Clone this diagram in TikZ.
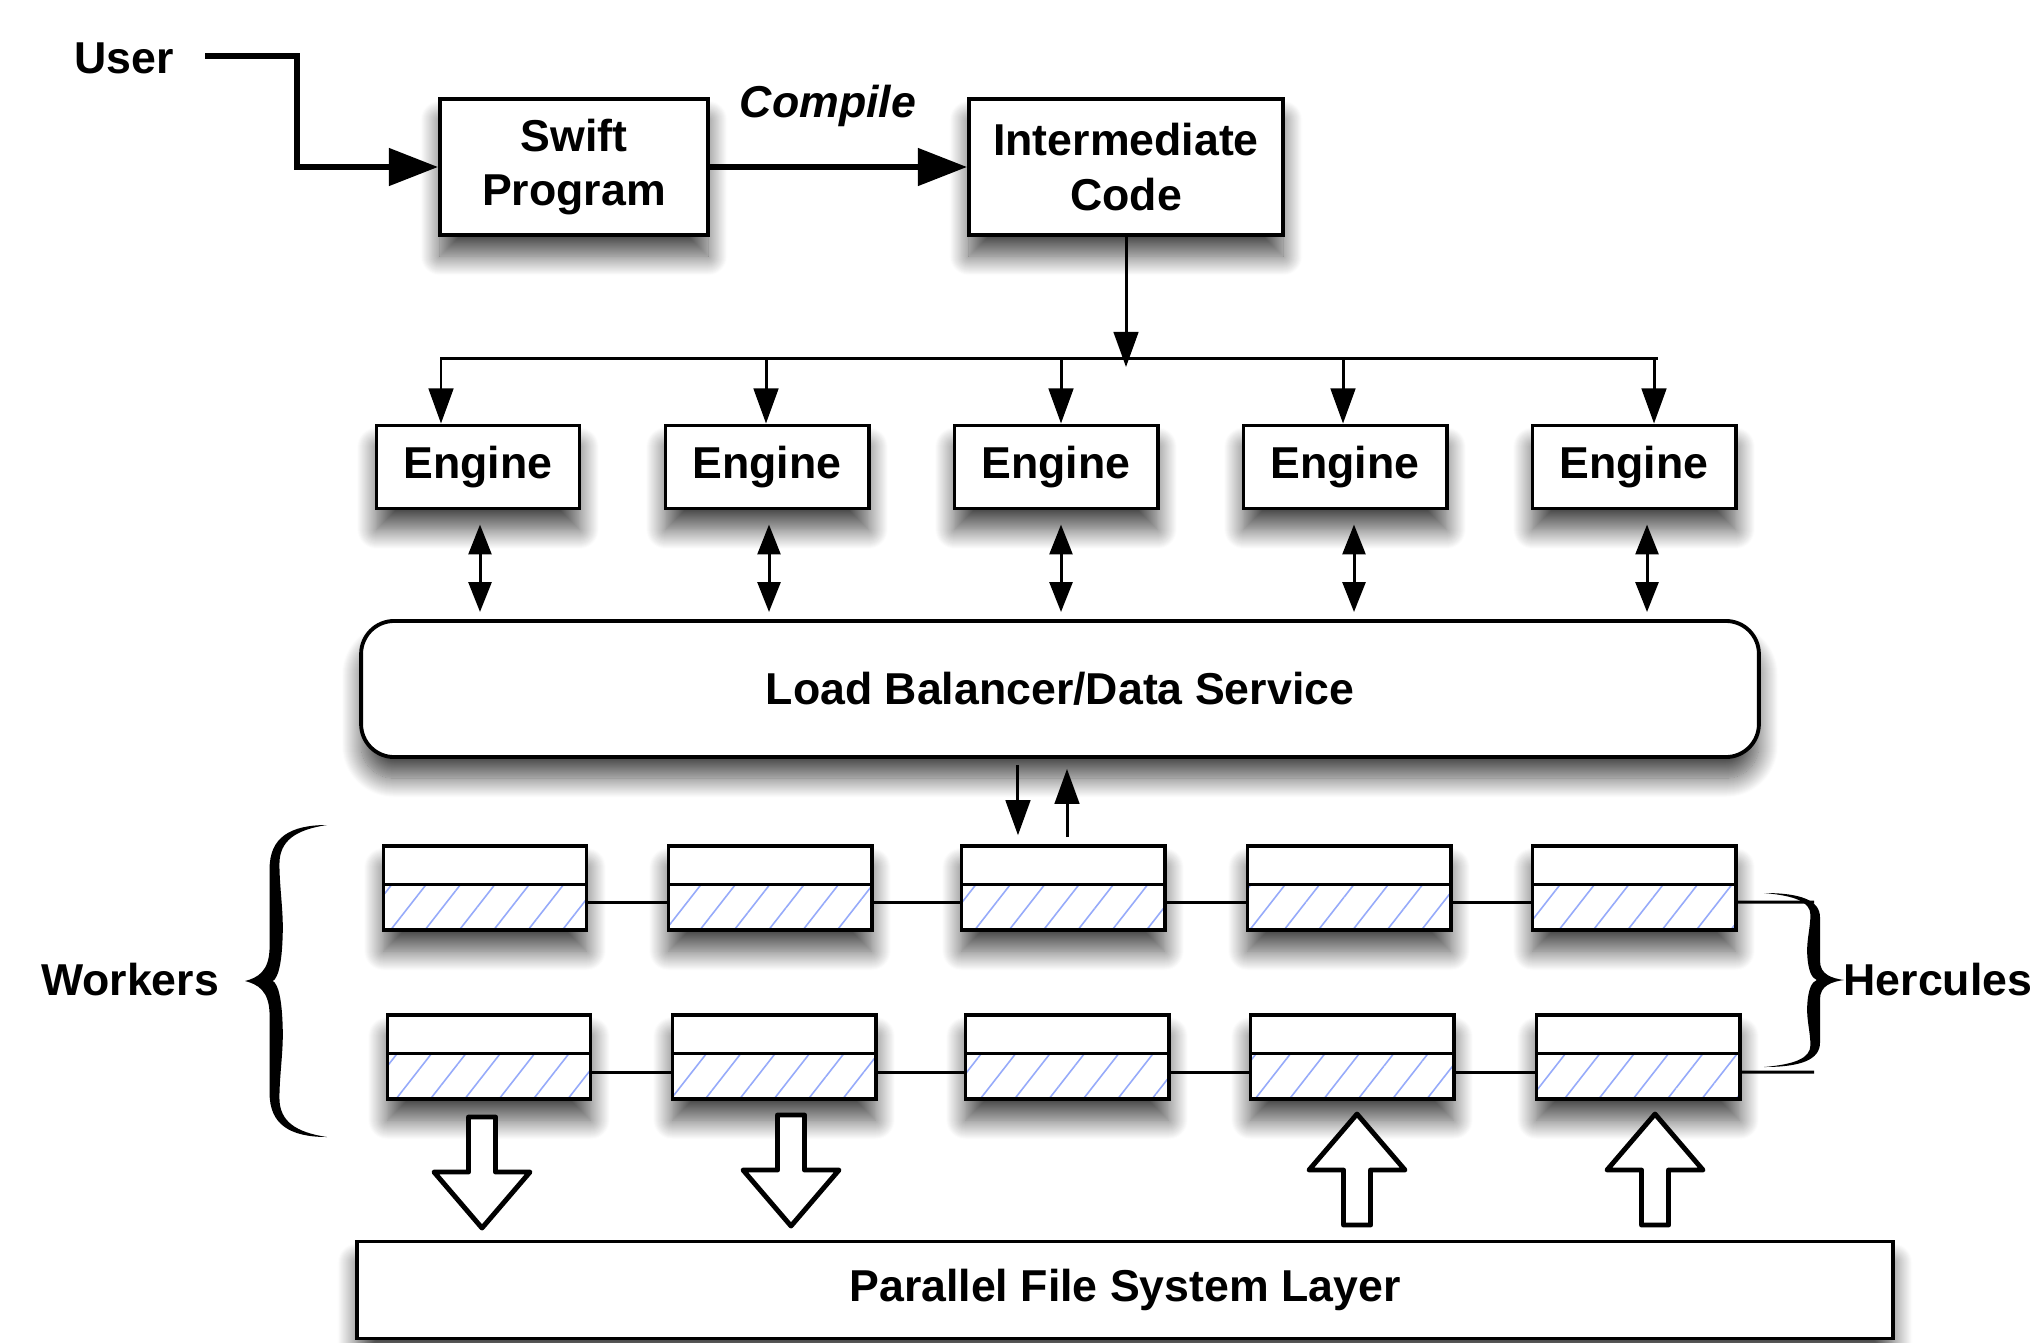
\documentclass[tikz,border=0pt]{standalone}
\usepackage{fontspec}
\setmainfont{Liberation Sans}
\usepackage{tikz}
\usetikzlibrary{arrows.meta}
\usetikzlibrary{patterns.meta}
\usetikzlibrary{shadows.blur}

\definecolor{hatchblue}{RGB}{150,170,250}

\begin{document}
\begin{tikzpicture}[x=0.01cm, y=-0.01cm,
    txt/.style={font=\fontsize{12.7}{15.4}\selectfont\bfseries},
    dropped/.style={blur shadow={shadow xshift=0pt, shadow yshift=-6pt, shadow blur radius=5.5pt, shadow blur steps=20, shadow opacity=70}},
    box/.style={txt, draw, line width=1.1pt, fill=white, dropped, align=center, inner sep=0pt},
    worker/.style={draw, line width=1.1pt, fill=white, dropped, minimum width=2.03cm, minimum height=0.84cm, inner sep=0pt,
        path picture={
            \fill[pattern={Lines[angle=52, distance=7.7pt, line width=0.45pt]}, pattern color=hatchblue]
                (path picture bounding box.south west) rectangle ([yshift=-0.38cm]path picture bounding box.north east);
            \draw[line width=0.85pt] ([yshift=-0.38cm]path picture bounding box.north west) -- ([yshift=-0.38cm]path picture bounding box.north east);
        }},
    link/.style={line width=0.85pt},
    arr/.style={line width=0.85pt, -{Triangle[length=10pt, width=7pt]}},
    twoway/.style={line width=0.85pt, {Triangle[length=8.5pt, width=6.5pt]}-{Triangle[length=8.5pt, width=6.5pt]}},
    fat/.style={line width=1.5pt, -{Triangle[length=14pt, width=10.5pt]}},
    pics/fatdown/.style={code={
        \draw[line width=1.4pt, line join=round, fill=white] (-13.5,0) -- (13.5,0) -- (13.5,55) -- (48,55) -- (0,111) -- (-48,55) -- (-13.5,55) -- cycle;
    }},
    % brace glyph, tip at the origin, ends at (1,-1) and (1,1)
    pics/curly/.style={code={
        \fill (0,0) .. controls (0.15,-0.02) and (0.30,-0.06) .. (0.30,-0.22) -- (0.30,-0.72)
            .. controls (0.30,-0.92) and (0.55,-1) .. (1,-1)
            .. controls (0.62,-0.97) and (0.42,-0.9) .. (0.42,-0.75)
            .. controls (0.42,-0.6) and (0.47,-0.45) .. (0.46,-0.3)
            .. controls (0.45,-0.1) and (0.40,-0.02) .. (0.34,0)
            .. controls (0.40,0.02) and (0.45,0.1) .. (0.46,0.3)
            .. controls (0.47,0.45) and (0.42,0.6) .. (0.42,0.75)
            .. controls (0.42,0.9) and (0.62,0.97) .. (1,1)
            .. controls (0.55,1) and (0.30,0.92) .. (0.30,0.72) -- (0.30,0.22)
            .. controls (0.30,0.06) and (0.15,0.02) .. (0,0) -- cycle;
    }}
]
\useasboundingbox (0,0) rectangle (2042,1342);

% compile chain
\node[txt, anchor=base] (user) at (124,73) {User};
\node[box, minimum width=2.68cm, minimum height=1.36cm] (swift) at (574,167) {Swift\\Program};
\node[box, minimum width=3.14cm, minimum height=1.36cm] (inter) at (1126,167) {Intermediate\\Code};
\node[txt, anchor=base] (compile) at (828,117) {\itshape Compile};
\coordinate (u0) at (205,56);
\draw[fat] (u0) -- (297,56) |- (swift.west);
\draw[fat] (swift.east) -- (inter.west);

% engines
\node[box, minimum width=2.03cm, minimum height=0.83cm] (e1) at (478,467) {Engine};
\node[box, minimum width=2.03cm, minimum height=0.83cm] (e2) at (767,467) {Engine};
\node[box, minimum width=2.03cm, minimum height=0.83cm] (e3) at (1056,467) {Engine};
\node[box, minimum width=2.03cm, minimum height=0.83cm] (e4) at (1345,467) {Engine};
\node[box, minimum width=2.03cm, minimum height=0.83cm] (e5) at (1634,467) {Engine};

\coordinate (hub) at (1126,367);
\coordinate (b1) at (441,358);
\coordinate (b2) at (766,358);
\coordinate (b3) at (1061,358);
\coordinate (b4) at (1343,358);
\coordinate (b5) at (1654,358);
\draw[link] ([xshift=-0.01cm]b1) -- ([xshift=0.04cm]b5);
\draw[arr] (inter.south) -- (hub);
\draw[arr] (b1) -- (b1 |- e1.north);
\draw[arr] (b2) -- (b2 |- e2.north);
\draw[arr] (b3) -- (b3 |- e3.north);
\draw[arr] (b4) -- (b4 |- e4.north);
\draw[arr] (b5) -- (b5 |- e5.north);

% load balancer
\node[box, rounded corners=0.33cm, minimum width=13.97cm, minimum height=1.36cm] (lb) at (1060,689) {Load Balancer/Data Service};
\draw[twoway, shorten <=4pt, shorten >=2pt] ([xshift=0.02cm]e1.south) -- ([xshift=0.02cm]e1.south |- lb.north);
\draw[twoway, shorten <=4pt, shorten >=2pt] ([xshift=0.02cm]e2.south) -- ([xshift=0.02cm]e2.south |- lb.north);
\draw[twoway, shorten <=4pt, shorten >=2pt] ([xshift=0.05cm]e3.south) -- ([xshift=0.05cm]e3.south |- lb.north);
\draw[twoway, shorten <=4pt, shorten >=2pt] ([xshift=0.09cm]e4.south) -- ([xshift=0.09cm]e4.south |- lb.north);
\draw[twoway, shorten <=4pt, shorten >=2pt] ([xshift=0.13cm]e5.south) -- ([xshift=0.13cm]e5.south |- lb.north);

% workers, two rows
\node[worker] (w11) at (485,888) {};
\node[worker] (w12) at (770,888) {};
\node[worker] (w13) at (1063,888) {};
\node[worker] (w14) at (1349,888) {};
\node[worker] (w15) at (1634,888) {};
\node[worker] (w21) at (489,1057) {};
\node[worker] (w22) at (774,1057) {};
\node[worker] (w23) at (1067,1057) {};
\node[worker] (w24) at (1352,1057) {};
\node[worker] (w25) at (1638,1057) {};

\coordinate (t1) at (1814,902);
\coordinate (t2) at (1814,1072);
\draw[link] ([yshift=-0.14cm]w11.east) -- ([yshift=-0.14cm]w12.west);
\draw[link] ([yshift=-0.14cm]w12.east) -- ([yshift=-0.14cm]w13.west);
\draw[link] ([yshift=-0.14cm]w13.east) -- ([yshift=-0.14cm]w14.west);
\draw[link] ([yshift=-0.14cm]w14.east) -- ([yshift=-0.14cm]w15.west);
\draw[link] ([yshift=-0.14cm]w15.east) -- (t1);
\draw[link] ([yshift=-0.15cm]w21.east) -- ([yshift=-0.15cm]w22.west);
\draw[link] ([yshift=-0.15cm]w22.east) -- ([yshift=-0.15cm]w23.west);
\draw[link] ([yshift=-0.15cm]w23.east) -- ([yshift=-0.15cm]w24.west);
\draw[link] ([yshift=-0.15cm]w24.east) -- ([yshift=-0.15cm]w25.west);
\draw[link] ([yshift=-0.15cm]w25.east) -- (t2);

\draw[arr, shorten <=1.7pt, shorten >=2.5pt] ([xshift=-0.45cm]w13.north |- lb.south) -- ([xshift=-0.45cm]w13.north);
\draw[arr, shorten <=2pt, shorten >=2.8pt] ([xshift=0.04cm]w13.north) -- ([xshift=0.04cm]w13.north |- lb.south);

% group labels
\node[txt, anchor=base] (workers) at (130,995) {Workers};
\node[txt, anchor=base] (hercules) at (1938,995) {Hercules};
\pic[xscale=82, yscale=156] at (245,981) {curly};
\pic[xscale=-80, yscale=87] at (1844,980) {curly};

% file system
\node[box, minimum width=15.35cm, minimum height=0.97cm] (pfs) at (1125,1290) {Parallel File System Layer};
\pic at (482,1117) {fatdown};
\pic at (791,1115) {fatdown};
\pic[yscale=-1] at (1357,1225) {fatdown};
\pic[yscale=-1] at (1655,1225) {fatdown};
\end{tikzpicture}
\end{document}
